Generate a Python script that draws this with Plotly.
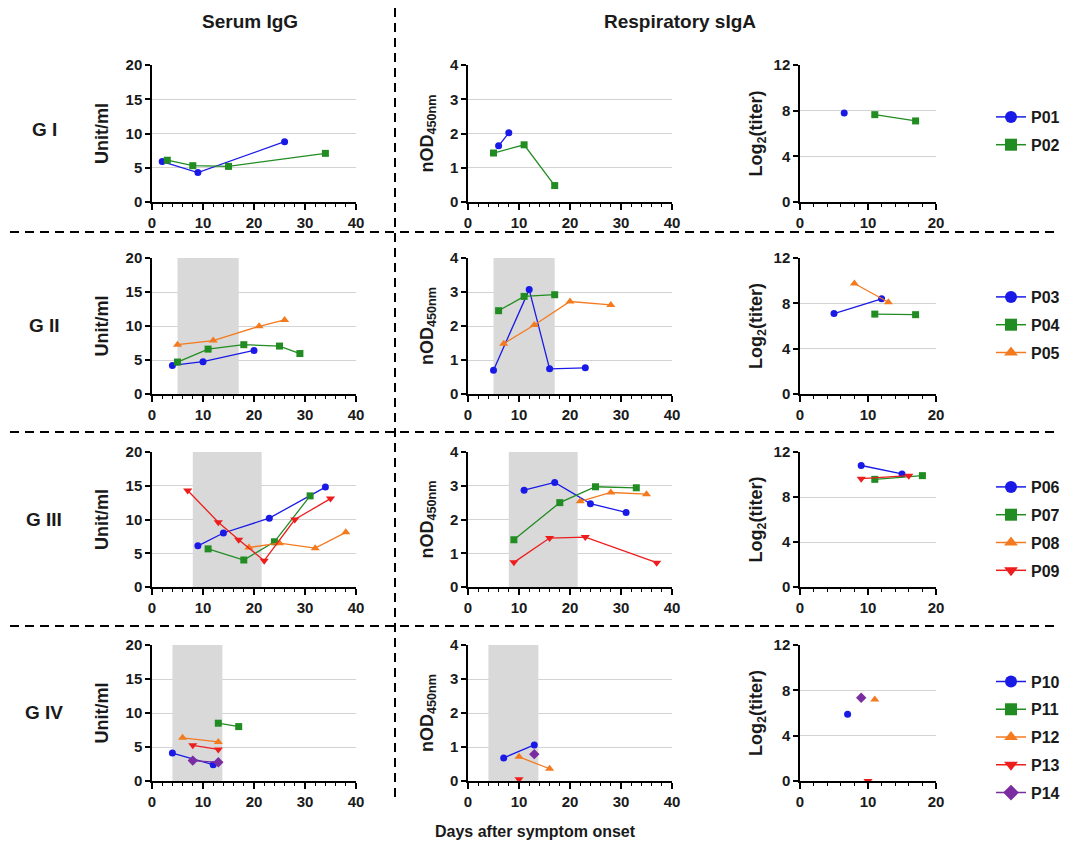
import plotly.graph_objects as go

W, H = 1067, 844

# ---- data: day after onset, value ----
# G I
p01_igg_day = [2, 9, 26]
p01_igg = [5.9, 4.3, 8.8]
p01_od_day = [6, 8]
p01_od = [1.64, 2.02]
p01_tit_day = [6.5]
p01_tit = [7.8]

p02_igg_day = [3, 8, 15, 34]
p02_igg = [6.1, 5.3, 5.2, 7.1]
p02_od_day = [5, 11, 17]
p02_od = [1.43, 1.67, 0.48]
p02_tit_day = [11, 17]
p02_tit = [7.65, 7.1]

# G II
p03_igg_day = [4, 10, 20]
p03_igg = [4.2, 4.75, 6.4]
p03_od_day = [5, 12, 16, 23]
p03_od = [0.7, 3.07, 0.74, 0.77]
p03_tit_day = [5, 12]
p03_tit = [7.1, 8.4]

p04_igg_day = [5, 11, 18, 25, 29]
p04_igg = [4.7, 6.6, 7.25, 7.05, 5.95]
p04_od_day = [6, 11, 17]
p04_od = [2.45, 2.87, 2.92]
p04_tit_day = [11, 17]
p04_tit = [7.05, 7.0]

p05_igg_day = [5, 12, 21, 26]
p05_igg = [7.25, 7.85, 9.95, 10.9]
p05_od_day = [7, 13, 20, 28]
p05_od = [1.48, 2.03, 2.72, 2.62]
p05_tit_day = [8, 13]
p05_tit = [9.75, 8.1]

# G III
p06_igg_day = [9, 14, 23, 34]
p06_igg = [6.1, 8.0, 10.2, 14.8]
p06_od_day = [11, 17, 24, 31]
p06_od = [2.87, 3.1, 2.47, 2.21]
p06_tit_day = [9, 15]
p06_tit = [10.8, 10.05]

p07_igg_day = [11, 18, 24, 31]
p07_igg = [5.65, 4.0, 6.7, 13.5]
p07_od_day = [9, 18, 25, 33]
p07_od = [1.4, 2.5, 2.97, 2.94]
p07_tit_day = [11, 18]
p07_tit = [9.57, 9.9]

p08_igg_day = [19, 25, 32, 38]
p08_igg = [5.85, 6.5, 5.75, 8.1]
p08_od_day = [22, 28, 35]
p08_od = [2.54, 2.8, 2.75]
p08_tit_day = []
p08_tit = []

p09_igg_day = [7, 13, 17, 22, 28, 35]
p09_igg = [14.3, 9.6, 7.0, 3.9, 10.0, 13.1]
p09_od_day = [9, 16, 23, 37]
p09_od = [0.73, 1.45, 1.48, 0.72]
p09_tit_day = [9, 16]
p09_tit = [9.63, 9.9]

# G IV
p10_igg_day = [4, 12]
p10_igg = [4.1, 2.4]
p10_od_day = [7, 13]
p10_od = [0.68, 1.06]
p10_tit_day = [7]
p10_tit = [5.9]

p11_igg_day = [13, 17]
p11_igg = [8.5, 8.0]
p11_od_day = []
p11_od = []
p11_tit_day = []
p11_tit = []

p12_igg_day = [6, 13]
p12_igg = [6.35, 5.75]
p12_od_day = [10, 16]
p12_od = [0.71, 0.36]
p12_tit_day = [11]
p12_tit = [7.2]

p13_igg_day = [8, 13]
p13_igg = [5.25, 4.65]
p13_od_day = [10]
p13_od = [0.05]
p13_tit_day = [10]
p13_tit = [0]

p14_igg_day = [8, 13]
p14_igg = [3.0, 2.75]
p14_od_day = [13]
p14_od = [0.79]
p14_tit_day = [9]
p14_tit = [7.35]

group_labels = ["G I", "G II", "G III", "G IV"]
# shaded window (days) per group, None = no shading
shade_windows = [None, (5, 17), (8, 21.5), (4, 13.8)]

groups = [
    [("P01", p01_igg_day, p01_igg, p01_od_day, p01_od, p01_tit_day, p01_tit),
     ("P02", p02_igg_day, p02_igg, p02_od_day, p02_od, p02_tit_day, p02_tit)],
    [("P03", p03_igg_day, p03_igg, p03_od_day, p03_od, p03_tit_day, p03_tit),
     ("P04", p04_igg_day, p04_igg, p04_od_day, p04_od, p04_tit_day, p04_tit),
     ("P05", p05_igg_day, p05_igg, p05_od_day, p05_od, p05_tit_day, p05_tit)],
    [("P06", p06_igg_day, p06_igg, p06_od_day, p06_od, p06_tit_day, p06_tit),
     ("P07", p07_igg_day, p07_igg, p07_od_day, p07_od, p07_tit_day, p07_tit),
     ("P08", p08_igg_day, p08_igg, p08_od_day, p08_od, p08_tit_day, p08_tit),
     ("P09", p09_igg_day, p09_igg, p09_od_day, p09_od, p09_tit_day, p09_tit)],
    [("P10", p10_igg_day, p10_igg, p10_od_day, p10_od, p10_tit_day, p10_tit),
     ("P11", p11_igg_day, p11_igg, p11_od_day, p11_od, p11_tit_day, p11_tit),
     ("P12", p12_igg_day, p12_igg, p12_od_day, p12_od, p12_tit_day, p12_tit),
     ("P13", p13_igg_day, p13_igg, p13_od_day, p13_od, p13_tit_day, p13_tit),
     ("P14", p14_igg_day, p14_igg, p14_od_day, p14_od, p14_tit_day, p14_tit)],
]

# marker style by position inside the group
STYLES = [
    ("#1A1AE6", "circle", 7),
    ("#218C21", "square", 7),
    ("#F47A1F", "triangle-up", 8),
    ("#EE1D1D", "triangle-down", 8),
    ("#7A2DA0", "diamond", 8),
]

# panel geometry in pixels
col_x = [(152, 356), (468, 672), (800, 936)]
row_y = [(65, 202), (258, 394), (452, 587), (645, 781)]
x_ranges = [[0, 40], [0, 40], [0, 20]]
y_ranges = [[0, 20], [0, 4], [0, 12]]
y_dticks = [5, 1, 4]
y_titles = ["Unit/ml", "nOD<sub>450nm</sub>", "Log<sub>2</sub>(titer)"]
y_standoff = [12, 12, 6]

FONT = "Arial, Liberation Sans, sans-serif"
TXT = "#1a1a1a"


def px_x(p):
    return p / W


def px_y(p):
    return 1 - p / H


fig = go.Figure()
shapes = []
legend_names = ["legend", "legend2", "legend3", "legend4"]
legend_centers = [131, 325, 529, 737]

for r, members in enumerate(groups):
    for c in range(3):
        k = r * 3 + c + 1
        xa = "x" if k == 1 else f"x{k}"
        ya = "y" if k == 1 else f"y{k}"
        for i, m in enumerate(members):
            color, symbol, size = STYLES[i]
            xs, ys = m[1 + 2 * c], m[2 + 2 * c]
            if not xs:
                continue
            fig.add_trace(go.Scatter(
                x=xs, y=ys, xaxis=xa, yaxis=ya, mode="lines+markers",
                line=dict(color=color, width=1.3),
                marker=dict(color=color, symbol=symbol, size=size),
                showlegend=False, cliponaxis=False, hoverinfo="x+y",
            ))
        win = shade_windows[r]
        if win is not None and c < 2:
            shapes.append(dict(type="rect", xref=xa, yref=ya,
                               x0=win[0], x1=win[1],
                               y0=y_ranges[c][0], y1=y_ranges[c][1],
                               fillcolor="#D9D9D9", line=dict(width=0),
                               layer="between"))
        ax_common = dict(showline=True, linecolor="black", linewidth=1.5,
                         ticks="outside", tickcolor="black", tickwidth=1.5,
                         tickfont=dict(family=FONT, size=15, color=TXT, weight="bold"),
                         zeroline=False, automargin=False)
        fig.layout[("xaxis" if k == 1 else f"xaxis{k}")] = dict(
            ax_common, domain=[px_x(col_x[c][0]), px_x(col_x[c][1])],
            anchor=ya, range=x_ranges[c], dtick=10, ticklen=6,
            showgrid=False,
            minor=dict(dtick=2, ticks="outside", ticklen=3,
                       tickcolor="black", tickwidth=1),
        )
        fig.layout[("yaxis" if k == 1 else f"yaxis{k}")] = dict(
            ax_common, domain=[px_y(row_y[r][1]), px_y(row_y[r][0])],
            anchor=xa, range=y_ranges[c], dtick=y_dticks[c], ticklen=5,
            showgrid=True, gridcolor="#D3D3D3", gridwidth=1,
            title=dict(text=y_titles[c], standoff=y_standoff[c],
                       font=dict(family=FONT, size=18, color=TXT, weight="bold")),
        )

    # legend-only traces with larger markers
    for i, m in enumerate(members):
        color, symbol, size = STYLES[i]
        fig.add_trace(go.Scatter(
            x=[None], y=[None], mode="lines+markers", name=m[0],
            line=dict(color=color, width=1.5),
            marker=dict(color=color, symbol=symbol, size=12),
            legend=legend_names[r], legendgroup=m[0], showlegend=True,
        ))
    fig.layout[legend_names[r]] = dict(
        x=px_x(991), y=px_y(legend_centers[r]), xanchor="left", yanchor="middle",
        bgcolor="rgba(0,0,0,0)", tracegroupgap=4,
        font=dict(family=FONT, size=16, color=TXT, weight="bold"),
    )

# dashed separators
dash = dict(color="black", width=2, dash="9px,6px")
shapes.append(dict(type="line", xref="paper", yref="paper",
                   x0=px_x(395), x1=px_x(395), y0=px_y(8), y1=px_y(800), line=dash))
for yy in [232, 432, 626]:
    shapes.append(dict(type="line", xref="paper", yref="paper",
                       x0=px_x(10), x1=px_x(1060), y0=px_y(yy), y1=px_y(yy), line=dash))

annotations = [
    dict(text="Serum IgG", x=px_x(250), y=px_y(22)),
    dict(text="Respiratory sIgA", x=px_x(680), y=px_y(22)),
    dict(text="Days after symptom onset", x=px_x(535), y=px_y(831),
         font=dict(family=FONT, size=16, color=TXT, weight="bold")),
]
for lbl, yy in zip(group_labels, [130, 326, 519, 712]):
    annotations.append(dict(text=lbl, x=px_x(44), y=px_y(yy)))
for a in annotations:
    a.update(xref="paper", yref="paper", showarrow=False,
             xanchor="center", yanchor="middle")
    a.setdefault("font", dict(family=FONT, size=19, color=TXT, weight="bold"))

fig.update_layout(
    width=W, height=H,
    margin=dict(l=0, r=0, t=0, b=0, autoexpand=False),
    paper_bgcolor="white", plot_bgcolor="white",
    shapes=shapes, annotations=annotations,
)

# the page body has a default 8px margin; drop it so the figure fills the window
fig.write_html("out.html", config={"displayModeBar": False},
               post_script="document.body.style.margin = '0';")
